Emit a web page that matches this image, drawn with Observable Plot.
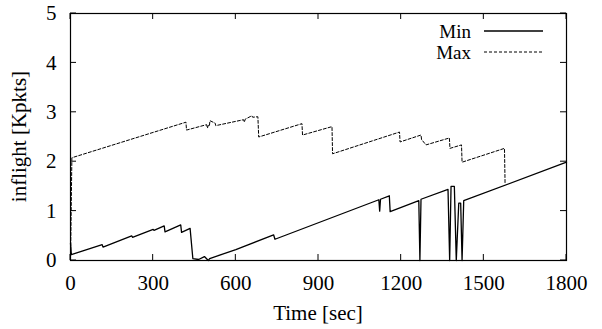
<!DOCTYPE html>
<html><head><meta charset="utf-8">
<script src="https://cdn.jsdelivr.net/npm/d3@7"></script>
<script src="https://cdn.jsdelivr.net/npm/@observablehq/plot@0.6"></script>
<style>body{margin:0;background:#fff}svg{display:block}</style>
</head><body><div id="chart"></div>
<script>
// ---- data ----
const seriesNames = ["Min", "Max"];
const minTime = [0, 3, 115, 118, 222, 225, 300, 303, 340, 343, 400, 403, 434, 444, 465, 486, 500, 505, 600, 737, 742, 1119, 1122, 1125, 1157, 1160, 1264, 1268, 1272, 1370, 1376, 1381, 1393, 1400, 1409, 1416, 1421, 1427, 1800];
const minVal  = [0.35, 0.12, 0.32, 0.27, 0.50, 0.47, 0.63, 0.61, 0.70, 0.58, 0.72, 0.57, 0.65, 0.04, 0.02, 0.08, 0.0, 0.04, 0.22, 0.52, 0.43, 1.23, 1.00, 1.24, 1.31, 0.99, 1.21, 0.0, 1.24, 1.44, 0.0, 1.50, 1.50, 0.0, 1.16, 1.16, 0.0, 1.21, 1.99];
const maxTime = [0, 5, 419, 421, 494, 497, 500, 504, 506, 525, 527, 628, 631, 634, 658, 661, 680, 683, 840, 842, 949, 951, 1194, 1196, 1272, 1274, 1290, 1375, 1377, 1419, 1421, 1575, 1577];
const maxVal  = [0.0, 2.08, 2.80, 2.64, 2.75, 2.68, 2.74, 2.72, 2.83, 2.78, 2.73, 2.85, 2.80, 2.86, 2.93, 2.90, 2.91, 2.50, 2.77, 2.54, 2.71, 2.16, 2.60, 2.40, 2.54, 2.45, 2.34, 2.48, 2.27, 2.34, 1.99, 2.27, 1.565];
const xTicks = [0, 300, 600, 900, 1200, 1500, 1800];
const yTicks = [0, 1, 2, 3, 4, 5];
const xLabel = "Time [sec]";
const yLabel = "inflight [Kpkts]";

const minData = minTime.map((t, i) => ({t, v: minVal[i]}));
const maxData = maxTime.map((t, i) => ({t, v: maxVal[i]}));

const W = 602, H = 329, ML = 70, MR = 36, MT = 13, MB = 69;
const FONT = "'Liberation Serif','Times New Roman',serif";

const plot = Plot.plot({
  width: W, height: H,
  marginLeft: ML, marginRight: MR, marginTop: MT, marginBottom: MB,
  style: {fontFamily: FONT, fontSize: "21px", background: "white", color: "black", overflow: "visible"},
  x: {domain: [0, 1800]},
  y: {domain: [0, 5]},
  marks: [
    Plot.line(maxData, {x: "t", y: "v", stroke: "black", strokeWidth: 1, strokeDasharray: "3,2"}),
    Plot.line(minData, {x: "t", y: "v", stroke: "black", strokeWidth: 1.3}),
    Plot.axisX({ticks: xTicks, tickSize: 0, tickPadding: 15, tickFormat: d => String(d), label: null}),
    Plot.axisY({ticks: yTicks, tickSize: 0, tickPadding: 14, tickFormat: d => String(d), label: null}),
    Plot.frame({stroke: "black", strokeWidth: 1.2})
  ]
});
document.getElementById("chart").appendChild(plot);

// inward ticks on all four sides, placed through the plot's own scales
const sx = plot.scale("x"), sy = plot.scale("y");
const svg = d3.select(plot);
const g = svg.append("g").attr("stroke", "black").attr("stroke-width", 1);
const x0 = sx.apply(0), x1 = sx.apply(1800), y0 = sy.apply(0), y1 = sy.apply(5);
const TL = 6;
xTicks.forEach(t => {
  const x = sx.apply(t);
  g.append("line").attr("x1", x).attr("x2", x).attr("y1", y0).attr("y2", y0 - TL);
  g.append("line").attr("x1", x).attr("x2", x).attr("y1", y1).attr("y2", y1 + TL);
});
yTicks.forEach(v => {
  const y = sy.apply(v);
  g.append("line").attr("y1", y).attr("y2", y).attr("x1", x0).attr("x2", x0 + TL);
  g.append("line").attr("y1", y).attr("y2", y).attr("x1", x1).attr("x2", x1 - TL);
});

// axis titles
svg.append("text").text(xLabel)
  .attr("x", (x0 + x1) / 2).attr("y", 320).attr("text-anchor", "middle")
  .attr("font-family", FONT).attr("font-size", 21).attr("fill", "black");
svg.append("text").text(yLabel)
  .attr("transform", `translate(26,${(y0 + y1) / 2}) rotate(-90)`)
  .attr("text-anchor", "middle")
  .attr("font-family", FONT).attr("font-size", 21).attr("fill", "black");

// legend (key)
const key = svg.append("g").attr("font-family", FONT).attr("font-size", 19);
seriesNames.forEach((name, i) => {
  const y = 31 + i * 21;
  key.append("text").text(name).attr("x", 471).attr("y", y).attr("dy", "0.35em")
    .attr("text-anchor", "end").attr("fill", "black");
  key.append("line").attr("x1", 484).attr("x2", 543).attr("y1", y).attr("y2", y)
    .attr("stroke", "black").attr("stroke-width", i === 0 ? 1.3 : 1)
    .attr("stroke-dasharray", i === 0 ? null : "3,2");
});
</script>
</body></html>
